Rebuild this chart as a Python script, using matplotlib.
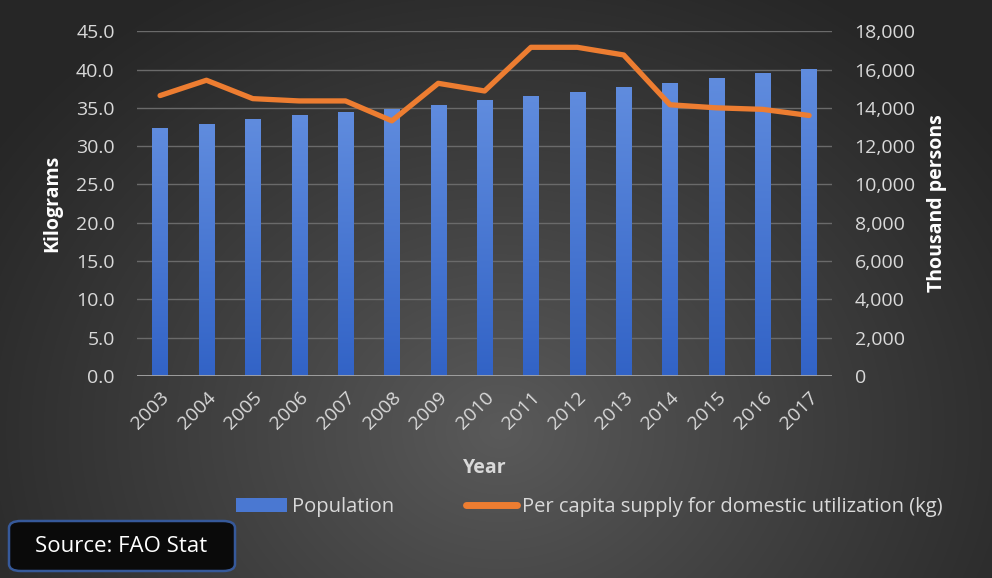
import numpy as np
import matplotlib.pyplot as plt
from matplotlib.lines import Line2D
from matplotlib.patches import Patch, FancyBboxPatch
from matplotlib.ticker import FuncFormatter, MultipleLocator

plt.rcParams['font.family'] = ['Open Sans', 'DejaVu Sans']

years = ['2003', '2004', '2005', '2006', '2007', '2008', '2009', '2010',
         '2011', '2012', '2013', '2014', '2015', '2016', '2017']
# thousand persons
population = [12955, 13150, 13410, 13620, 13760, 13950, 14160, 14420,
              14630, 14820, 15080, 15290, 15550, 15830, 16020]
# kg per person
per_capita = [36.6, 38.6, 36.2, 35.9, 35.9, 33.3, 38.2, 37.2,
              42.9, 42.9, 41.9, 35.4, 35.0, 34.8, 34.0]

TXT = '#d9d9d9'
BAR_TOP = np.array([0x60, 0x8c, 0xde]) / 255
BAR_BOT = np.array([0x32, 0x63, 0xc6]) / 255
ORANGE = '#ed7d31'
FS = 14

fig = plt.figure(figsize=(9.92, 5.78), dpi=100)

# radial background, lighter toward lower middle
bg = fig.add_axes([0, 0, 1, 1], zorder=-10)
yy, xx = np.mgrid[0:578, 0:992]
r = np.sqrt(((xx - 500) / 620.0) ** 2 + ((yy - 430) / 520.0) ** 2)
shade = np.clip(1 - r, 0, 1) ** 1.1
v = (38 + 52 * shade) / 255
bg.imshow(np.dstack([v, v, v]), aspect='auto', extent=[0, 1, 0, 1],
          origin='upper', interpolation='bilinear')
bg.set_axis_off()

ax = fig.add_axes([0.138, 0.3495, 0.701, 0.5965])
ax2 = ax.twinx()
ax.set_zorder(ax2.get_zorder() + 1)
ax.patch.set_visible(False)
ax2.patch.set_visible(False)

x = np.arange(len(years))

# population bars with a vertical gradient
bars = ax2.bar(x, population, width=0.33, color=BAR_BOT, zorder=2)
grad = np.linspace(0, 1, 256)[:, None]
grad_rgb = BAR_TOP[None, None, :] * (1 - grad[..., None]) + BAR_BOT[None, None, :] * grad[..., None]
for b in bars:
    im = ax2.imshow(grad_rgb, extent=[b.get_x(), b.get_x() + b.get_width(), 0, b.get_height()],
                    aspect='auto', zorder=3, interpolation='bilinear')
    im.set_clip_path(b)

ax.plot(x, per_capita, color=ORANGE, lw=3.8, solid_joinstyle='round',
        solid_capstyle='round', zorder=4)

ax.set_xlim(-0.5, len(years) - 0.5)
ax.set_ylim(0, 45)
ax2.set_ylim(0, 18000)
ax.yaxis.set_major_locator(MultipleLocator(5))
ax2.yaxis.set_major_locator(MultipleLocator(2000))
ax.yaxis.set_major_formatter(FuncFormatter(lambda v, p: f'{v:.1f}'))
ax2.yaxis.set_major_formatter(FuncFormatter(lambda v, p: f'{v:,.0f}'))

ax2.grid(axis='y', color='#6a6a6a', lw=1, zorder=0)
ax2.set_axisbelow(True)

for a in (ax, ax2):
    for s in a.spines.values():
        s.set_visible(False)
ax.axhline(0, color='#a6a6a6', lw=2, zorder=5)

ax.set_xticks(x)
ax.set_xticklabels(years, rotation=45, ha='right', rotation_mode='anchor')
ax.tick_params(axis='x', length=0, pad=9, labelsize=FS, labelcolor=TXT)
ax.tick_params(axis='y', length=0, pad=16, labelsize=FS, labelcolor=TXT)
ax2.tick_params(axis='y', length=0, pad=16, labelsize=FS, labelcolor=TXT)

ax.set_xlabel('Year', color=TXT, fontsize=FS, fontweight='bold', labelpad=18)
ax.set_ylabel('Kilograms', color='white', fontsize=FS, fontweight='bold', labelpad=10)
ax2.set_ylabel('Thousand persons', color='white', fontsize=FS, fontweight='bold', labelpad=8)

handles = [Patch(facecolor='#4a78d2', edgecolor='none'),
           Line2D([0], [0], color=ORANGE, lw=5, solid_capstyle='round')]
fig.legend(handles, ['Population', 'Per capita supply for domestic utilization (kg)'],
           loc='center', bbox_to_anchor=(0.594, 0.122), ncol=2, frameon=False,
           fontsize=14.5, labelcolor=TXT, handlelength=2.5, handletextpad=0.25,
           columnspacing=3.6)

box = FancyBboxPatch((9 / 992, 7 / 578), 226 / 992, 50 / 578,
                     boxstyle='round,pad=0,rounding_size=0.012',
                     transform=fig.transFigure, facecolor='#0a0a0a',
                     edgecolor='#36599a', lw=1.8, zorder=5)
fig.patches.append(box)
fig.text(121 / 992, 32 / 578, 'Source: FAO Stat', color='white', fontsize=16,
         ha='center', va='center', zorder=6)

fig.savefig('out.png', dpi=100)
